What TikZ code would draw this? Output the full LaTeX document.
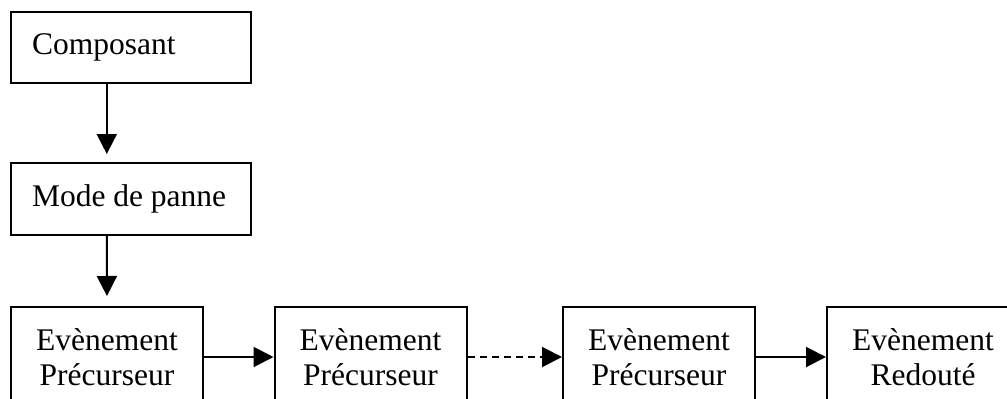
\documentclass[tikz,border=0pt]{standalone}
\usepackage{fontspec}
\setmainfont{Liberation Serif}
\usetikzlibrary{arrows.meta,calc}
\newcommand{\lefttext}[1]{\makebox[198pt][l]{#1}}
\begin{document}
\begin{tikzpicture}[x=1pt,y=-1pt,
  every node/.style={font=\fontsize{31.5}{35}\selectfont},
  topbox/.style={draw, line width=2pt, minimum width=240pt, inner xsep=21pt, inner ysep=0pt},
  evbox/.style={draw, line width=2pt, minimum width=192pt, minimum height=100pt, align=center, inner sep=0pt},
  arr/.style={line width=2pt, -{Triangle[length=20pt,width=20pt]}},
  darr/.style={arr, dash pattern=on 7pt off 5pt}]
\useasboundingbox (0,0) rectangle (1007,399);
\node[topbox, minimum height=71pt] (comp) at (131,47.5) {\lefttext{Composant}};
\node[topbox, minimum height=72pt] (mode) at (131,199) {\lefttext{Mode de panne}};
\node[evbox] (e1) at (107,357) {Evènement\\Précurseur};
\node[evbox] (e2) at (370.5,357) {Evènement\\Précurseur};
\node[evbox] (e3) at (659,357) {Evènement\\Précurseur};
\node[evbox] (e4) at (923,357) {Evènement\\Redouté};
\coordinate (c1) at ($(comp.south west)!0.4!(comp.south east)$);
\coordinate (c2) at ($(mode.south west)!0.4!(mode.south east)$);
\draw[arr, shorten >=8pt] (c1) -- (c1 |- mode.north);
\draw[arr, shorten >=10pt] (c2) -- (e1.north);
\draw[arr] (e1.east) -- (e2.west);
\draw[darr] (e2.east) -- (e3.west);
\draw[arr] (e3.east) -- (e4.west);
\end{tikzpicture}
\end{document}
